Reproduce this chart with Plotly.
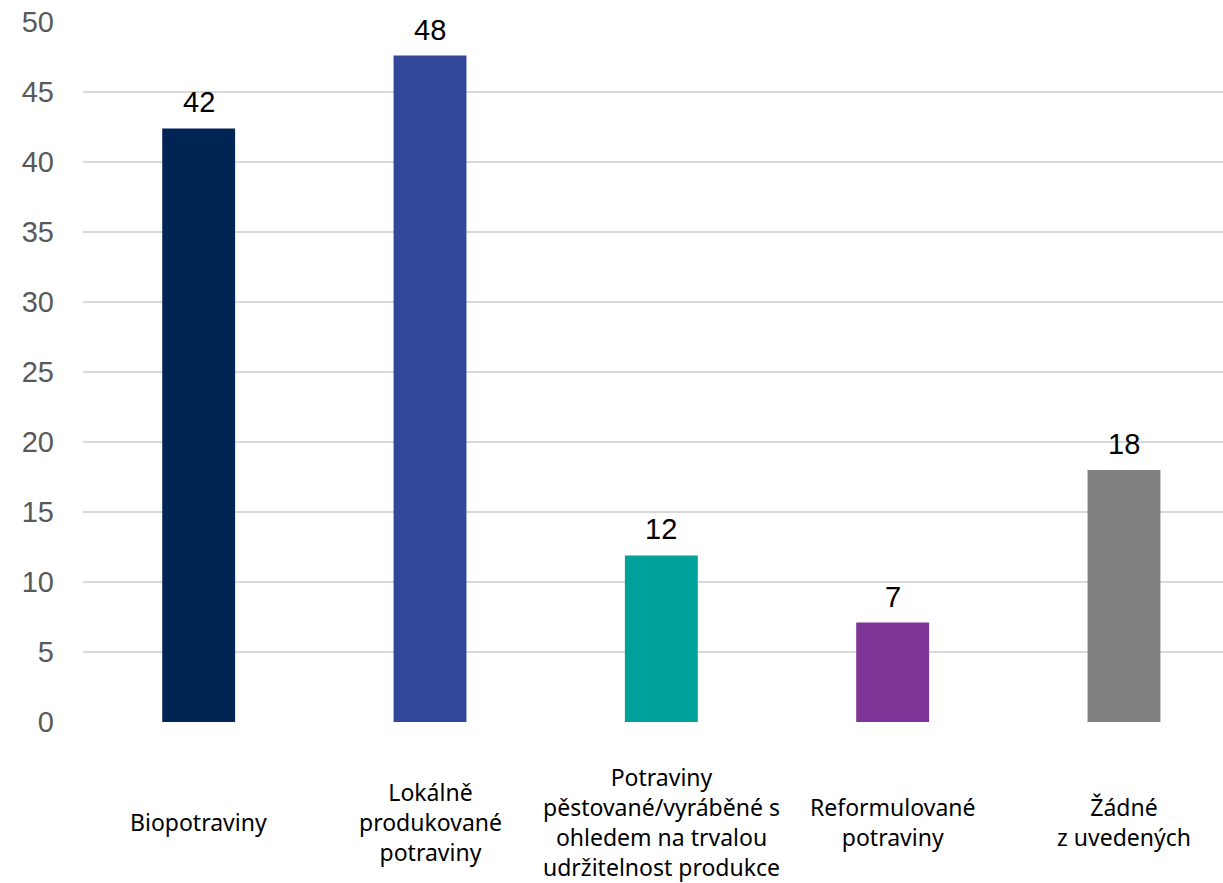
import plotly.graph_objects as go

categories = [
    "Biopotraviny",
    "Lokálně<br>produkované<br>potraviny",
    "Potraviny<br>pěstované/vyráběné s<br>ohledem na trvalou<br>udržitelnost produkce",
    "Reformulované<br>potraviny",
    "Žádné<br>z uvedených",
]
values = [42.4, 47.6, 11.9, 7.1, 18.0]
colors = ["#002554", "#30479A", "#00A09B", "#7E3496", "#808080"]
ytick_vals = [0, 5, 10, 15, 20, 25, 30, 35, 40, 45, 50]

xpos = list(range(len(categories)))

fig = go.Figure()
fig.add_trace(go.Bar(
    x=xpos,
    y=values,
    marker=dict(color=colors, line=dict(width=0)),
    cliponaxis=False,
    hoverinfo="skip",
))

# value labels above each bar
for i, v in enumerate(values):
    fig.add_annotation(
        x=i, xref="x", y=v, yref="y",
        text=f"{v:.0f}", showarrow=False,
        xanchor="center", yanchor="bottom", yshift=8,
        font=dict(family="Liberation Sans, Arial", size=29, color="#000000"),
    )

# category labels, vertically centred below the axis
for i, name in enumerate(categories):
    fig.add_annotation(
        x=i, xref="x", y=-0.143, yref="paper",
        text=name, showarrow=False,
        xanchor="center", yanchor="middle", align="center",
        font=dict(family="Noto Sans, Open Sans", size=23, color="#000000"),
    )

fig.update_layout(
    width=1223, height=883,
    margin=dict(l=83, r=0, t=22, b=161),
    paper_bgcolor="#FFFFFF",
    plot_bgcolor="#FFFFFF",
    bargap=0.685,
    showlegend=False,
    xaxis=dict(
        range=[-0.5, 4.428],
        showticklabels=False,
        showgrid=False,
        zeroline=False,
        showline=False,
        fixedrange=True,
    ),
    yaxis=dict(
        range=[0, 50],
        tickvals=ytick_vals,
        tickfont=dict(family="Liberation Sans, Arial", size=29, color="#595959"),
        showgrid=True,
        gridcolor="#D9D9D9",
        gridwidth=2,
        zeroline=False,
        showline=False,
        ticks="",
        ticklabelstandoff=28,
        fixedrange=True,
    ),
)

fig.write_html("out.html")
